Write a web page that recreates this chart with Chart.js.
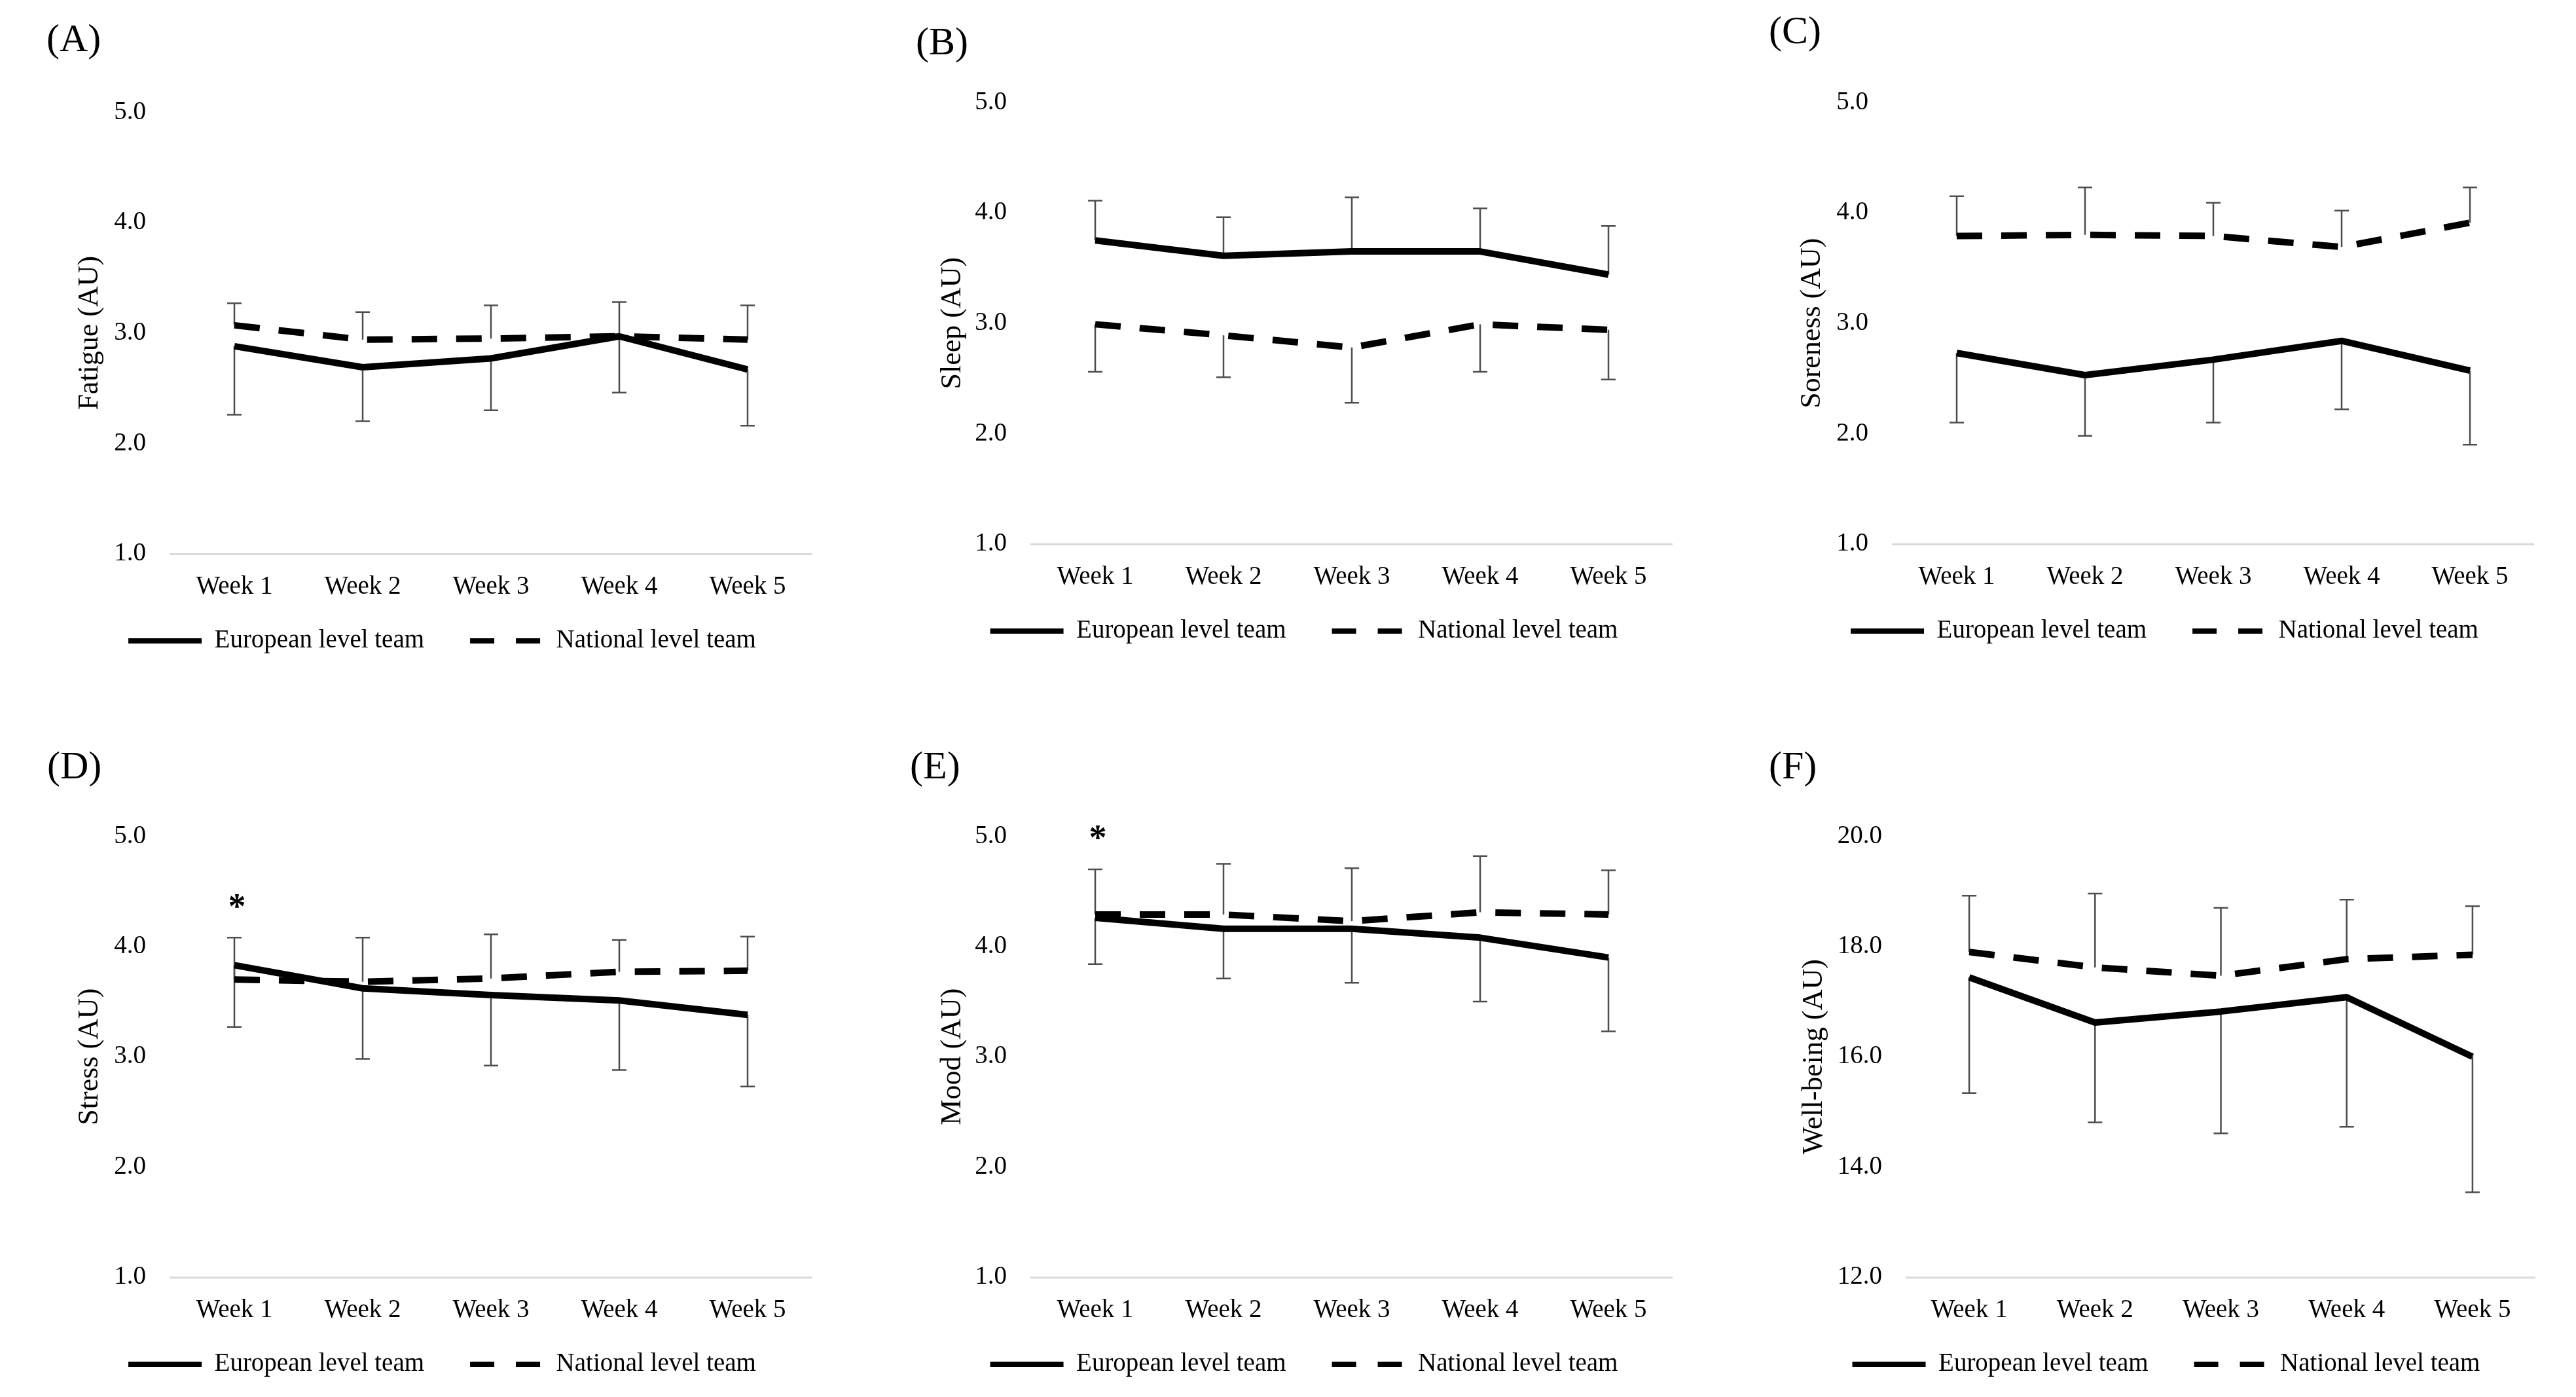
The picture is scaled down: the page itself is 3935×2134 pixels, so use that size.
<!DOCTYPE html>
<html>
<head>
<meta charset="utf-8">
<script src="https://cdn.jsdelivr.net/npm/chart.js@4.4.1/dist/chart.umd.min.js"></script>
<style>
  body { margin: 0; background: #fff; width: 3935px; height: 2134px; position: relative; overflow: hidden; font-family: "Liberation Serif", "Times New Roman", serif; }
  canvas { position: absolute; }
  .tag { position: absolute; font-size: 60px; line-height: 1; color: #000; }
</style>
</head>
<body>
<script>
const weeks = ["Week 1", "Week 2", "Week 3", "Week 4", "Week 5"];

// means and SD
const fatigueEuro = [2.88, 2.69, 2.77, 2.97, 2.67];
const fatigueEuroSD = [0.62, 0.49, 0.47, 0.51, 0.51];
const fatigueNat = [3.07, 2.94, 2.95, 2.97, 2.94];
const fatigueNatSD = [0.20, 0.25, 0.30, 0.31, 0.31];

const sleepEuro = [3.75, 3.61, 3.65, 3.65, 3.44];
const sleepEuroSD = [0.36, 0.35, 0.49, 0.39, 0.44];
const sleepNat = [2.99, 2.89, 2.78, 2.99, 2.94];
const sleepNatSD = [0.43, 0.38, 0.50, 0.43, 0.45];

const sorenessEuro = [2.73, 2.53, 2.67, 2.84, 2.57];
const sorenessEuroSD = [0.63, 0.55, 0.57, 0.62, 0.67];
const sorenessNat = [3.79, 3.80, 3.79, 3.69, 3.91];
const sorenessNatSD = [0.36, 0.43, 0.30, 0.33, 0.32];

const stressEuro = [3.83, 3.62, 3.56, 3.51, 3.38];
const stressEuroSD = [0.56, 0.64, 0.64, 0.63, 0.65];
const stressNat = [3.70, 3.68, 3.71, 3.77, 3.78];
const stressNatSD = [0.38, 0.40, 0.40, 0.29, 0.31];

const moodEuro = [4.26, 4.16, 4.16, 4.08, 3.90];
const moodEuroSD = [0.42, 0.45, 0.49, 0.58, 0.67];
const moodNat = [4.29, 4.29, 4.23, 4.31, 4.29];
const moodNatSD = [0.41, 0.46, 0.48, 0.51, 0.40];

const wellEuro = [17.44, 16.62, 16.82, 17.08, 16.00];
const wellEuroSD = [2.10, 1.81, 2.21, 2.35, 2.46];
const wellNat = [17.90, 17.62, 17.47, 17.77, 17.85];
const wellNatSD = [1.02, 1.34, 1.23, 1.08, 0.88];

// significant difference marks (*)
const stressSig = [true, false, false, false, false];
const moodSig = [true, false, false, false, false];

Chart.defaults.font.family = '"Liberation Serif", "Times New Roman", serif';
Chart.defaults.color = "#000";

const panels = [
  { tag: "(A)", title: "Fatigue (AU)", euro: fatigueEuro, euroSD: fatigueEuroSD, nat: fatigueNat, natSD: fatigueNatSD, up: "nat", sig: null, min: 1, max: 5, step: 1,
    left: 111, top: 111, width: 1129, height: 934, yWidth: 149, tagX: 71, tagY: 28 },
  { tag: "(B)", title: "Sleep (AU)", euro: sleepEuro, euroSD: sleepEuroSD, nat: sleepNat, natSD: sleepNatSD, up: "euro", sig: null, min: 1, max: 5, step: 1,
    left: 1429, top: 96, width: 1126, height: 934, yWidth: 146, tagX: 1399, tagY: 33 },
  { tag: "(C)", title: "Soreness (AU)", euro: sorenessEuro, euroSD: sorenessEuroSD, nat: sorenessNat, natSD: sorenessNatSD, up: "nat", sig: null, min: 1, max: 5, step: 1,
    left: 2742, top: 96, width: 1129, height: 934, yWidth: 149, tagX: 2702, tagY: 16 },
  { tag: "(D)", title: "Stress (AU)", euro: stressEuro, euroSD: stressEuroSD, nat: stressNat, natSD: stressNatSD, up: "nat", sig: stressSig, min: 1, max: 5, step: 1,
    left: 111, top: 1217, width: 1129, height: 933, yWidth: 149, tagX: 72, tagY: 1139 },
  { tag: "(E)", title: "Mood (AU)", euro: moodEuro, euroSD: moodEuroSD, nat: moodNat, natSD: moodNatSD, up: "nat", sig: moodSig, min: 1, max: 5, step: 1,
    left: 1429, top: 1217, width: 1126, height: 933, yWidth: 146, tagX: 1390, tagY: 1139 },
  { tag: "(F)", title: "Well-being (AU)", euro: wellEuro, euroSD: wellEuroSD, nat: wellNat, natSD: wellNatSD, up: "nat", sig: null, min: 12, max: 20, step: 2,
    left: 2745, top: 1217, width: 1128, height: 933, yWidth: 167, tagX: 2702, tagY: 1139 },
];

// one-sided SD bars, plus the * above week marks
const errorBars = {
  id: "errorBars",
  beforeDatasetsDraw(chart) {
    const { ctx, scales: { x, y } } = chart;
    ctx.save();
    ctx.strokeStyle = "#4d4d4d";
    ctx.lineWidth = 2.5;
    chart.data.datasets.forEach((ds) => {
      ds.data.forEach((v, i) => {
        const px = x.getPixelForValue(i);
        const end = y.getPixelForValue(v + ds.errDir * ds.sd[i]);
        ctx.beginPath();
        ctx.moveTo(px, y.getPixelForValue(v));
        ctx.lineTo(px, end);
        ctx.moveTo(px - 11, end);
        ctx.lineTo(px + 11, end);
        ctx.stroke();
      });
    });
    ctx.restore();
  },
  afterDatasetsDraw(chart, args, opts) {
    if (!opts.sig) return;
    const { ctx, scales: { x, y } } = chart;
    ctx.save();
    ctx.fillStyle = "#000";
    ctx.textAlign = "center";
    ctx.font = 'bold 54px "Liberation Serif"';
    const m = ctx.measureText("*");
    opts.sig.forEach((s, i) => {
      if (!s) return;
      const top = Math.min(...chart.data.datasets.map((ds) =>
        y.getPixelForValue(ds.data[i] + Math.max(0, ds.errDir) * ds.sd[i])));
      const cy = top - 56;
      ctx.fillText("*", x.getPixelForValue(i) + 4, cy + (m.actualBoundingBoxAscent - m.actualBoundingBoxDescent) / 2);
    });
    ctx.restore();
  },
};

// legend sits closer to the axis labels than the layout would put it
const legendShift = {
  id: "legendShift",
  afterLayout(chart, args, opts) {
    chart.legend.top -= opts.by;
    chart.legend.bottom -= opts.by;
  },
};

panels.forEach((p) => {
  const tag = document.createElement("div");
  tag.className = "tag";
  tag.textContent = p.tag;
  tag.style.left = p.tagX + "px";
  tag.style.top = p.tagY + "px";
  document.body.appendChild(tag);

  const canvas = document.createElement("canvas");
  canvas.width = p.width;
  canvas.height = p.height;
  canvas.style.left = p.left + "px";
  canvas.style.top = p.top + "px";
  canvas.style.width = p.width + "px";
  canvas.style.height = p.height + "px";
  document.body.appendChild(canvas);

  new Chart(canvas.getContext("2d"), {
    type: "line",
    data: {
      labels: weeks,
      datasets: [
        {
          label: "European level team",
          data: p.euro,
          sd: p.euroSD,
          errDir: p.up === "euro" ? 1 : -1,
          borderColor: "#000",
          borderWidth: 10,
          borderJoinStyle: "round",
          pointRadius: 0,
          tension: 0,
        },
        {
          label: "National level team",
          data: p.nat,
          sd: p.natSD,
          errDir: p.up === "nat" ? 1 : -1,
          borderColor: "#000",
          borderWidth: 10,
          borderDash: [39, 29],
          pointRadius: 0,
          tension: 0,
        },
      ],
    },
    options: {
      responsive: false,
      animation: false,
      layout: { padding: 0 },
      scales: {
        x: {
          offset: true,
          grid: { display: false, drawTicks: false },
          border: { display: true, color: "#d9d9d9", width: 3 },
          ticks: { font: { size: 39 }, color: "#000", padding: 27, maxRotation: 0 },
          afterFit: (s) => { s.height = 80; },
        },
        y: {
          min: p.min,
          max: p.max,
          grid: { display: false, drawTicks: false },
          border: { display: false },
          ticks: { stepSize: p.step, font: { size: 39 }, color: "#000", padding: 37, callback: (v) => v.toFixed(1) },
          title: { display: true, text: p.title, font: { size: 44 }, color: "#000", padding: 0 },
          afterFit: (s) => { s.width = p.yWidth; },
        },
      },
      plugins: {
        tooltip: { enabled: false },
        errorBars: { sig: p.sig },
        legendShift: { by: 36.5 },
        legend: {
          position: "bottom",
          labels: {
            usePointStyle: true,
            pointStyle: "line",
            pointStyleWidth: 112,
            padding: 70,
            color: "#000",
            font: { size: 39 },
            generateLabels: (chart) =>
              Chart.defaults.plugins.legend.labels.generateLabels(chart).map((item) => ({
                ...item,
                lineWidth: 8,
                strokeStyle: "#000",
                lineDash: chart.data.datasets[item.datasetIndex].borderDash ? [37, 33] : [],
              })),
          },
        },
      },
    },
    plugins: [errorBars, legendShift],
  });
});
</script>
</body>
</html>
